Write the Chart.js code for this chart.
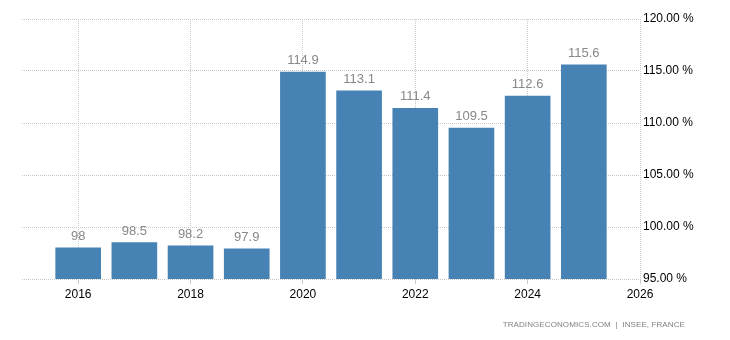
<!DOCTYPE html>
<html>
<head>
<meta charset="utf-8">
<script src="https://cdn.jsdelivr.net/npm/chart.js@4/dist/chart.umd.min.js"></script>
<style>
    body { margin: 0; background: #fff; }
    #wrap { position: relative; width: 730px; height: 340px; }
    #source {
        position: absolute; right: 45px; top: 320px;
        font: 8px "Liberation Sans", Arial, sans-serif;
        color: #808080; letter-spacing: 0.1px; white-space: nowrap;
    }
</style>
</head>
<body>
<div id="wrap">
    <canvas id="chart" width="730" height="340"></canvas>
    <div id="source">TRADINGECONOMICS.COM &nbsp;|&nbsp; INSEE, FRANCE</div>
</div>
<script>
    var years = [2016, 2017, 2018, 2019, 2020, 2021, 2022, 2023, 2024, 2025];
    var values = [98, 98.5, 98.2, 97.9, 114.9, 113.1, 111.4, 109.5, 112.6, 115.6];
    var xTicks = [2016, 2018, 2020, 2022, 2024, 2026];
    var yTicks = [95, 100, 105, 110, 115, 120];

    var points = [];
    for (var i = 0; i < years.length; i++) {
        points.push({x: years[i], y: values[i]});
    }

    var fontName = '"Liberation Sans", Arial, sans-serif';
    var gridColor = '#c8c8c8';

    // value labels above each bar
    var barLabels = {
        id: 'barLabels',
        afterDatasetsDraw: function(chart) {
            var ctx = chart.ctx;
            var meta = chart.getDatasetMeta(0);
            ctx.save();
            ctx.font = '13px ' + fontName;
            ctx.fillStyle = '#888888';
            ctx.textAlign = 'center';
            ctx.textBaseline = 'alphabetic';
            meta.data.forEach(function(bar, idx) {
                ctx.fillText(String(values[idx]), bar.x, bar.y - 8);
            });
            ctx.restore();
        }
    };

    var ctx = document.getElementById('chart').getContext('2d');

    var barChart = new Chart(ctx, {
        type: 'bar',
        data: {
            datasets: [{
                data: points,
                backgroundColor: '#4682b4',
                borderWidth: 0,
                barThickness: 45
            }]
        },
        plugins: [barLabels],
        options: {
            responsive: false,
            animation: false,
            layout: { padding: { left: 22, top: 19, right: 0, bottom: 0 } },
            plugins: {
                legend: { display: false },
                tooltip: { enabled: false }
            },
            scales: {
                x: {
                    type: 'linear',
                    min: 2015,
                    max: 2026,
                    offset: false,
                    afterBuildTicks: function(scale) {
                        scale.ticks = xTicks.map(function(v) { return {value: v}; });
                    },
                    afterFit: function(scale) { scale.height = 61; },
                    grid: {
                        offset: false,
                        color: gridColor,
                        tickColor: '#c8c8c8',
                        tickLength: 5,
                        tickBorderDash: []
                    },
                    border: { display: false, dash: [1, 1] },
                    ticks: {
                        color: '#000',
                        padding: 3,
                        maxRotation: 0,
                        font: { family: fontName, size: 12 },
                        callback: function(v) { return String(v); }
                    }
                },
                y: {
                    position: 'right',
                    min: 95,
                    max: 120,
                    afterBuildTicks: function(scale) {
                        scale.ticks = yTicks.map(function(v) { return {value: v}; });
                    },
                    afterFit: function(scale) { scale.width = 90; },
                    grid: {
                        color: gridColor,
                        drawTicks: false
                    },
                    border: { display: false, dash: [1, 1] },
                    ticks: {
                        color: '#000',
                        padding: 3,
                        font: { family: fontName, size: 12 },
                        callback: function(v) { return v.toFixed(2) + ' %'; }
                    }
                }
            }
        }
    });
</script>
</body>
</html>
